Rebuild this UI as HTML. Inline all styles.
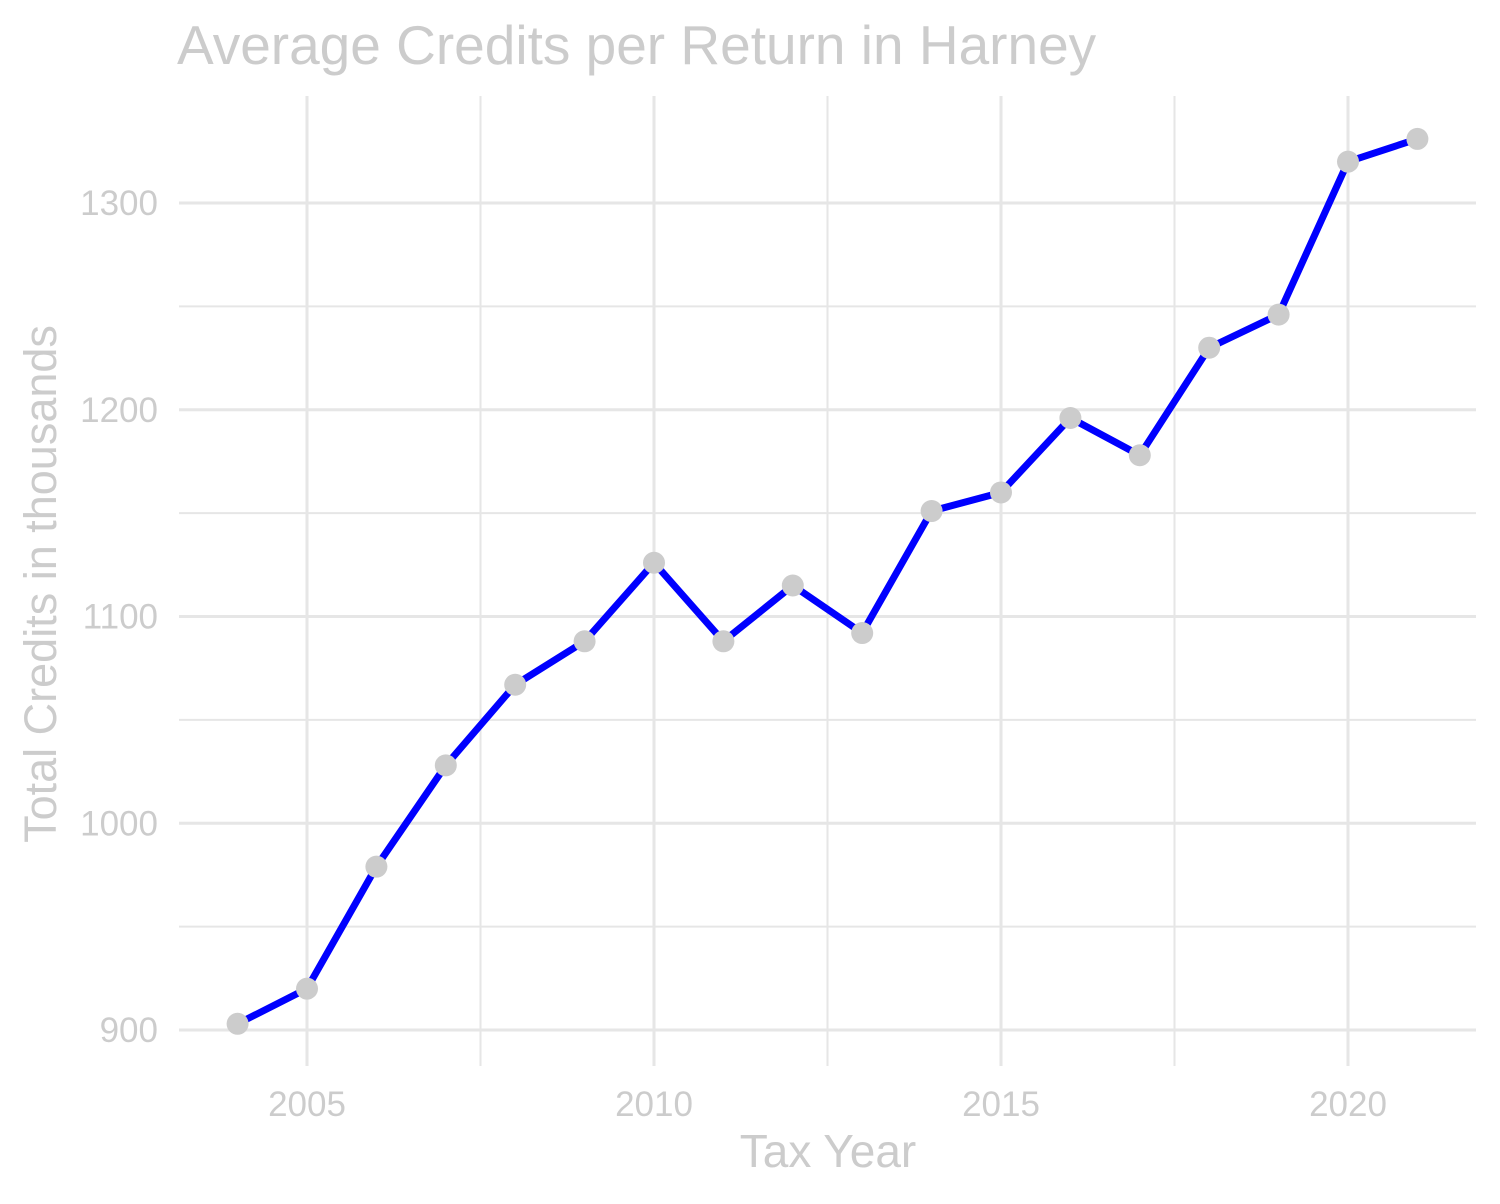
<!DOCTYPE html>
<html><head><meta charset="utf-8"><style>
body{margin:0;background:#fff;}
svg text{font-family:"Liberation Sans",Arial,sans-serif;}
</style></head><body>
<svg width="1500" height="1199" xmlns="http://www.w3.org/2000/svg">
<text x="177" y="64" font-size="55" fill="#cccccc">Average Credits per Return in Harney</text>
<g id="grid"></g>
<g id="ticks"></g>
<path id="line" fill="none" stroke="#0000ff" stroke-width="7" stroke-linejoin="round"/>
<g id="pts"></g>
<text x="828" y="1167" font-size="46" fill="#cccccc" text-anchor="middle">Tax Year</text>
<text transform="translate(56,584) rotate(-90)" font-size="45" fill="#cccccc" text-anchor="middle">Total Credits in thousands</text>
</svg>
<script>
const years=[2004,2005,2006,2007,2008,2009,2010,2011,2012,2013,2014,2015,2016,2017,2018,2019,2020,2021];
const values=[903,920,979,1028,1067,1088,1126,1088,1115,1092,1151,1160,1196,1178,1230,1246,1320,1331];
const xTicks=[2005,2010,2015,2020];
const xMinor=[2007.5,2012.5,2017.5];
const yTicks=[900,1000,1100,1200,1300];
const yMinor=[950,1050,1150,1250];
const L=179,R=1476,T=96,B=1066;
const x=v=>307+(v-2005)*69.4;
const y=v=>1030-(v-900)*2.0675;
const NS="http://www.w3.org/2000/svg";
const g=document.getElementById('grid'),tk=document.getElementById('ticks'),pts=document.getElementById('pts');
function ln(x1,y1,x2,y2,w,name){const l=document.createElementNS(NS,'line');l.setAttribute('x1',x1);l.setAttribute('y1',y1);l.setAttribute('x2',x2);l.setAttribute('y2',y2);l.setAttribute('stroke','#e6e6e6');l.setAttribute('stroke-width',w);


g.appendChild(l);}
function tx(xx,yy,s,anc,name){const t=document.createElementNS(NS,'text');t.setAttribute('x',xx);t.setAttribute('y',yy);t.setAttribute('font-size','35');t.setAttribute('fill','#cccccc');t.setAttribute('text-anchor',anc);t.textContent=s;


tk.appendChild(t);}
yMinor.forEach(v=>ln(L,y(v),R,y(v),2,'y-minor-gridline'));
xMinor.forEach(v=>ln(x(v),T,x(v),B,2,'x-minor-gridline'));
yTicks.forEach(v=>{ln(L,y(v),R,y(v),3,'y-major-gridline');tx(158,y(v)+12,v,'end','y-tick-label');});
xTicks.forEach(v=>{ln(x(v),T,x(v),B,3,'x-major-gridline');tx(x(v),1116,v,'middle','x-tick-label');});
document.getElementById('line').setAttribute('d',years.map((yr,i)=>(i?'L':'M')+x(yr)+','+y(values[i])).join(''));
years.forEach((yr,i)=>{const c=document.createElementNS(NS,'circle');c.setAttribute('cx',x(yr));c.setAttribute('cy',y(values[i]));c.setAttribute('r',11);c.setAttribute('fill','#cccccc');


pts.appendChild(c);});
</script>
</body></html>
